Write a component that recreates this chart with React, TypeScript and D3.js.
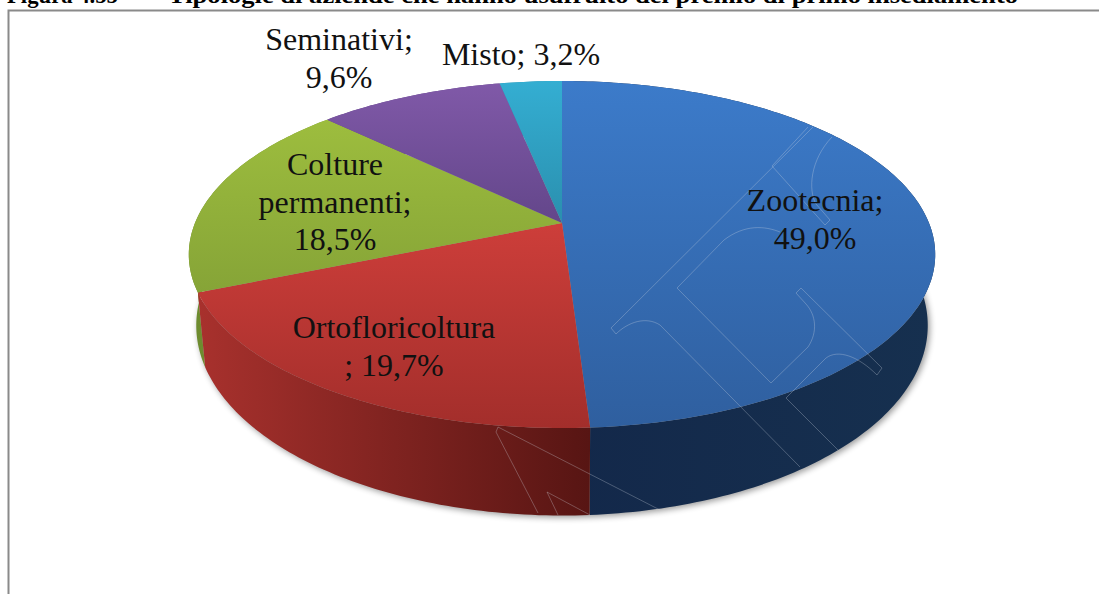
import * as d3 from "d3";

const categories = ["Zootecnia", "Ortofloricoltura", "Colture permanenti", "Seminativi", "Misto"];
const values = [49.0, 19.7, 18.5, 9.6, 3.2];
const topColors = [
  ["#3c7bca", "#2f5f9f"],
  ["#cd3e3a", "#a32e2b"],
  ["#9dbd3e", "#86a437"],
  ["#8059a8", "#63468a"],
  ["#34aed2", "#2a8fae"],
];
const sideColors = [
  ["#13284a", "#16304f"],
  ["#a8312d", "#571513"],
  ["#6c8a2e", "#7f9e36"],
  ["#63468a", "#63468a"],
  ["#2a8fae", "#2a8fae"],
];
const labelLines = [
  ["Zootecnia;", "49,0%"],
  ["Ortofloricoltura", "; 19,7%"],
  ["Colture", "permanenti;", "18,5%"],
  ["Seminativi;", "9,6%"],
  ["Misto; 3,2%"],
];
const titleHead = "Figura 4.55 –";
const titleTail = "Tipologie di aziende che hanno usufruito del premio di primo insediamento";

const width = 1099;
const height = 594;
const cx = 562;
const cy = 223;

// label anchors, first baseline
const labelPos = [
  { x: 815, y: 211 },
  { x: 394, y: 338 },
  { x: 335, y: 175 },
  { x: 339, y: 50 },
  { x: 521, y: 65 },
];
const lineGap = 37.5;

// tilted disc: pie angle -> screen point, perspective keeps the apex off the ellipse centre
function project(angle: number, sx = 1, sy = 1, apexY = cy): [number, number] {
  const u = Math.sin(angle);
  const v = -Math.cos(angle);
  const w = 1 - 0.1816 * v;
  return [cx + (sx * 367 * u) / w, apexY + (sy * 167.8 * v) / w];
}

const slices = d3.pie<number>().sort(null).startAngle(0).endAngle(2 * Math.PI)(values);
const line = d3.line();

function arcPoints(a0: number, a1: number, sx = 1, sy = 1, apexY = cy) {
  const n = Math.max(2, Math.ceil((a1 - a0) * 60));
  return d3.range(n + 1).map((i) => project(a0 + ((a1 - a0) * i) / n, sx, sy, apexY));
}

// bottom rim of the wall
function baseArc(a0: number, a1: number) {
  return arcPoints(a0, a1, 0.98, 1.095, 291);
}

function topPath(a0: number, a1: number) {
  return line([[cx, cy], ...arcPoints(a0, a1)]) + "Z";
}

function sidePath(a0: number, a1: number) {
  return line([...arcPoints(a0, a1), ...baseArc(a0, a1).reverse()]) + "Z";
}

const basePath = line(baseArc(0, 2 * Math.PI)) + "Z";

// scanned stamp lines over the page
const stampLines = [
  "M813,127L611,328L616,334C628,322 646,316 660,325L800,467",
  "M832,137C810,160 808,190 816,204L830,220L825,225L772,166L808,127",
  "M677,288L771,383L808,347C818,332 816,315 806,304L796,293L801,288L882,368L877,375C858,356 838,349 826,358L786,398L838,450",
  "M677,288L724,240C745,224 765,226 780,232",
  "M660,510L498,427L496,432L538,513",
  "M590,515L547,492L558,515",
];

export default function App() {
  return (
    <svg
      width={width}
      height={height}
      style={{ position: "absolute", left: 0, top: 0, background: "#fff" }}
      fontFamily="'Liberation Serif', serif"
    >
      <defs>
        <filter id="soft" x="-10%" y="-10%" width="120%" height="120%">
          <feGaussianBlur stdDeviation="3" />
        </filter>
        {slices.map((s, i) => {
          const ys = [cy, ...arcPoints(s.startAngle, s.endAngle).map((p) => p[1])];
          return (
            <linearGradient
              key={i}
              id={`top-${i}`}
              gradientUnits="userSpaceOnUse"
              x1="0"
              y1={d3.min(ys)}
              x2="0"
              y2={d3.max(ys)}
            >
              <stop offset="0" stopColor={topColors[i][0]} />
              <stop offset="1" stopColor={topColors[i][1]} />
            </linearGradient>
          );
        })}
        {slices.map((s, i) => {
          const xs = arcPoints(s.startAngle, s.endAngle).map((p) => p[0]);
          return (
            <linearGradient
              key={i}
              id={`side-${i}`}
              gradientUnits="userSpaceOnUse"
              x1={d3.min(xs)}
              y1="0"
              x2={d3.max(xs)}
              y2="0"
            >
              <stop offset="0" stopColor={sideColors[i][0]} />
              <stop offset="1" stopColor={sideColors[i][1]} />
            </linearGradient>
          );
        })}
      </defs>

      <g fontSize={24} fontWeight="bold" fill="#000">
        <text x={7} y={3} textLength={128} lengthAdjust="spacingAndGlyphs">
          {titleHead}
        </text>
        <text x={168} y={3} textLength={850} lengthAdjust="spacingAndGlyphs">
          {titleTail}
        </text>
      </g>
      <path d="M1099,10.5H8.5V594" fill="none" stroke="#8a8a8a" strokeWidth={2} />

      <path d={basePath} transform="translate(2,2)" fill="#000" opacity={0.4} filter="url(#soft)" />

      {/* far slices first so the near walls cover them */}
      {[3, 4, 2, 0, 1].map((i) => (
        <path key={i} d={sidePath(slices[i].startAngle, slices[i].endAngle)} fill={`url(#side-${i})`} />
      ))}
      {slices.map((s, i) => (
        <path key={i} d={topPath(s.startAngle, s.endAngle)} fill={`url(#top-${i})`} />
      ))}

      {stampLines.map((d, i) => (
        <path key={i} d={d} fill="none" stroke="#d5dbe4" strokeOpacity={0.6} strokeWidth={0.5} />
      ))}

      {categories.map((c, i) => (
        <text key={c} textAnchor="middle" fontSize={32} fill="#111">
          {labelLines[i].map((t, j) => (
            <tspan key={j} x={labelPos[i].x} y={labelPos[i].y + j * lineGap}>
              {t}
            </tspan>
          ))}
        </text>
      ))}
    </svg>
  );
}
